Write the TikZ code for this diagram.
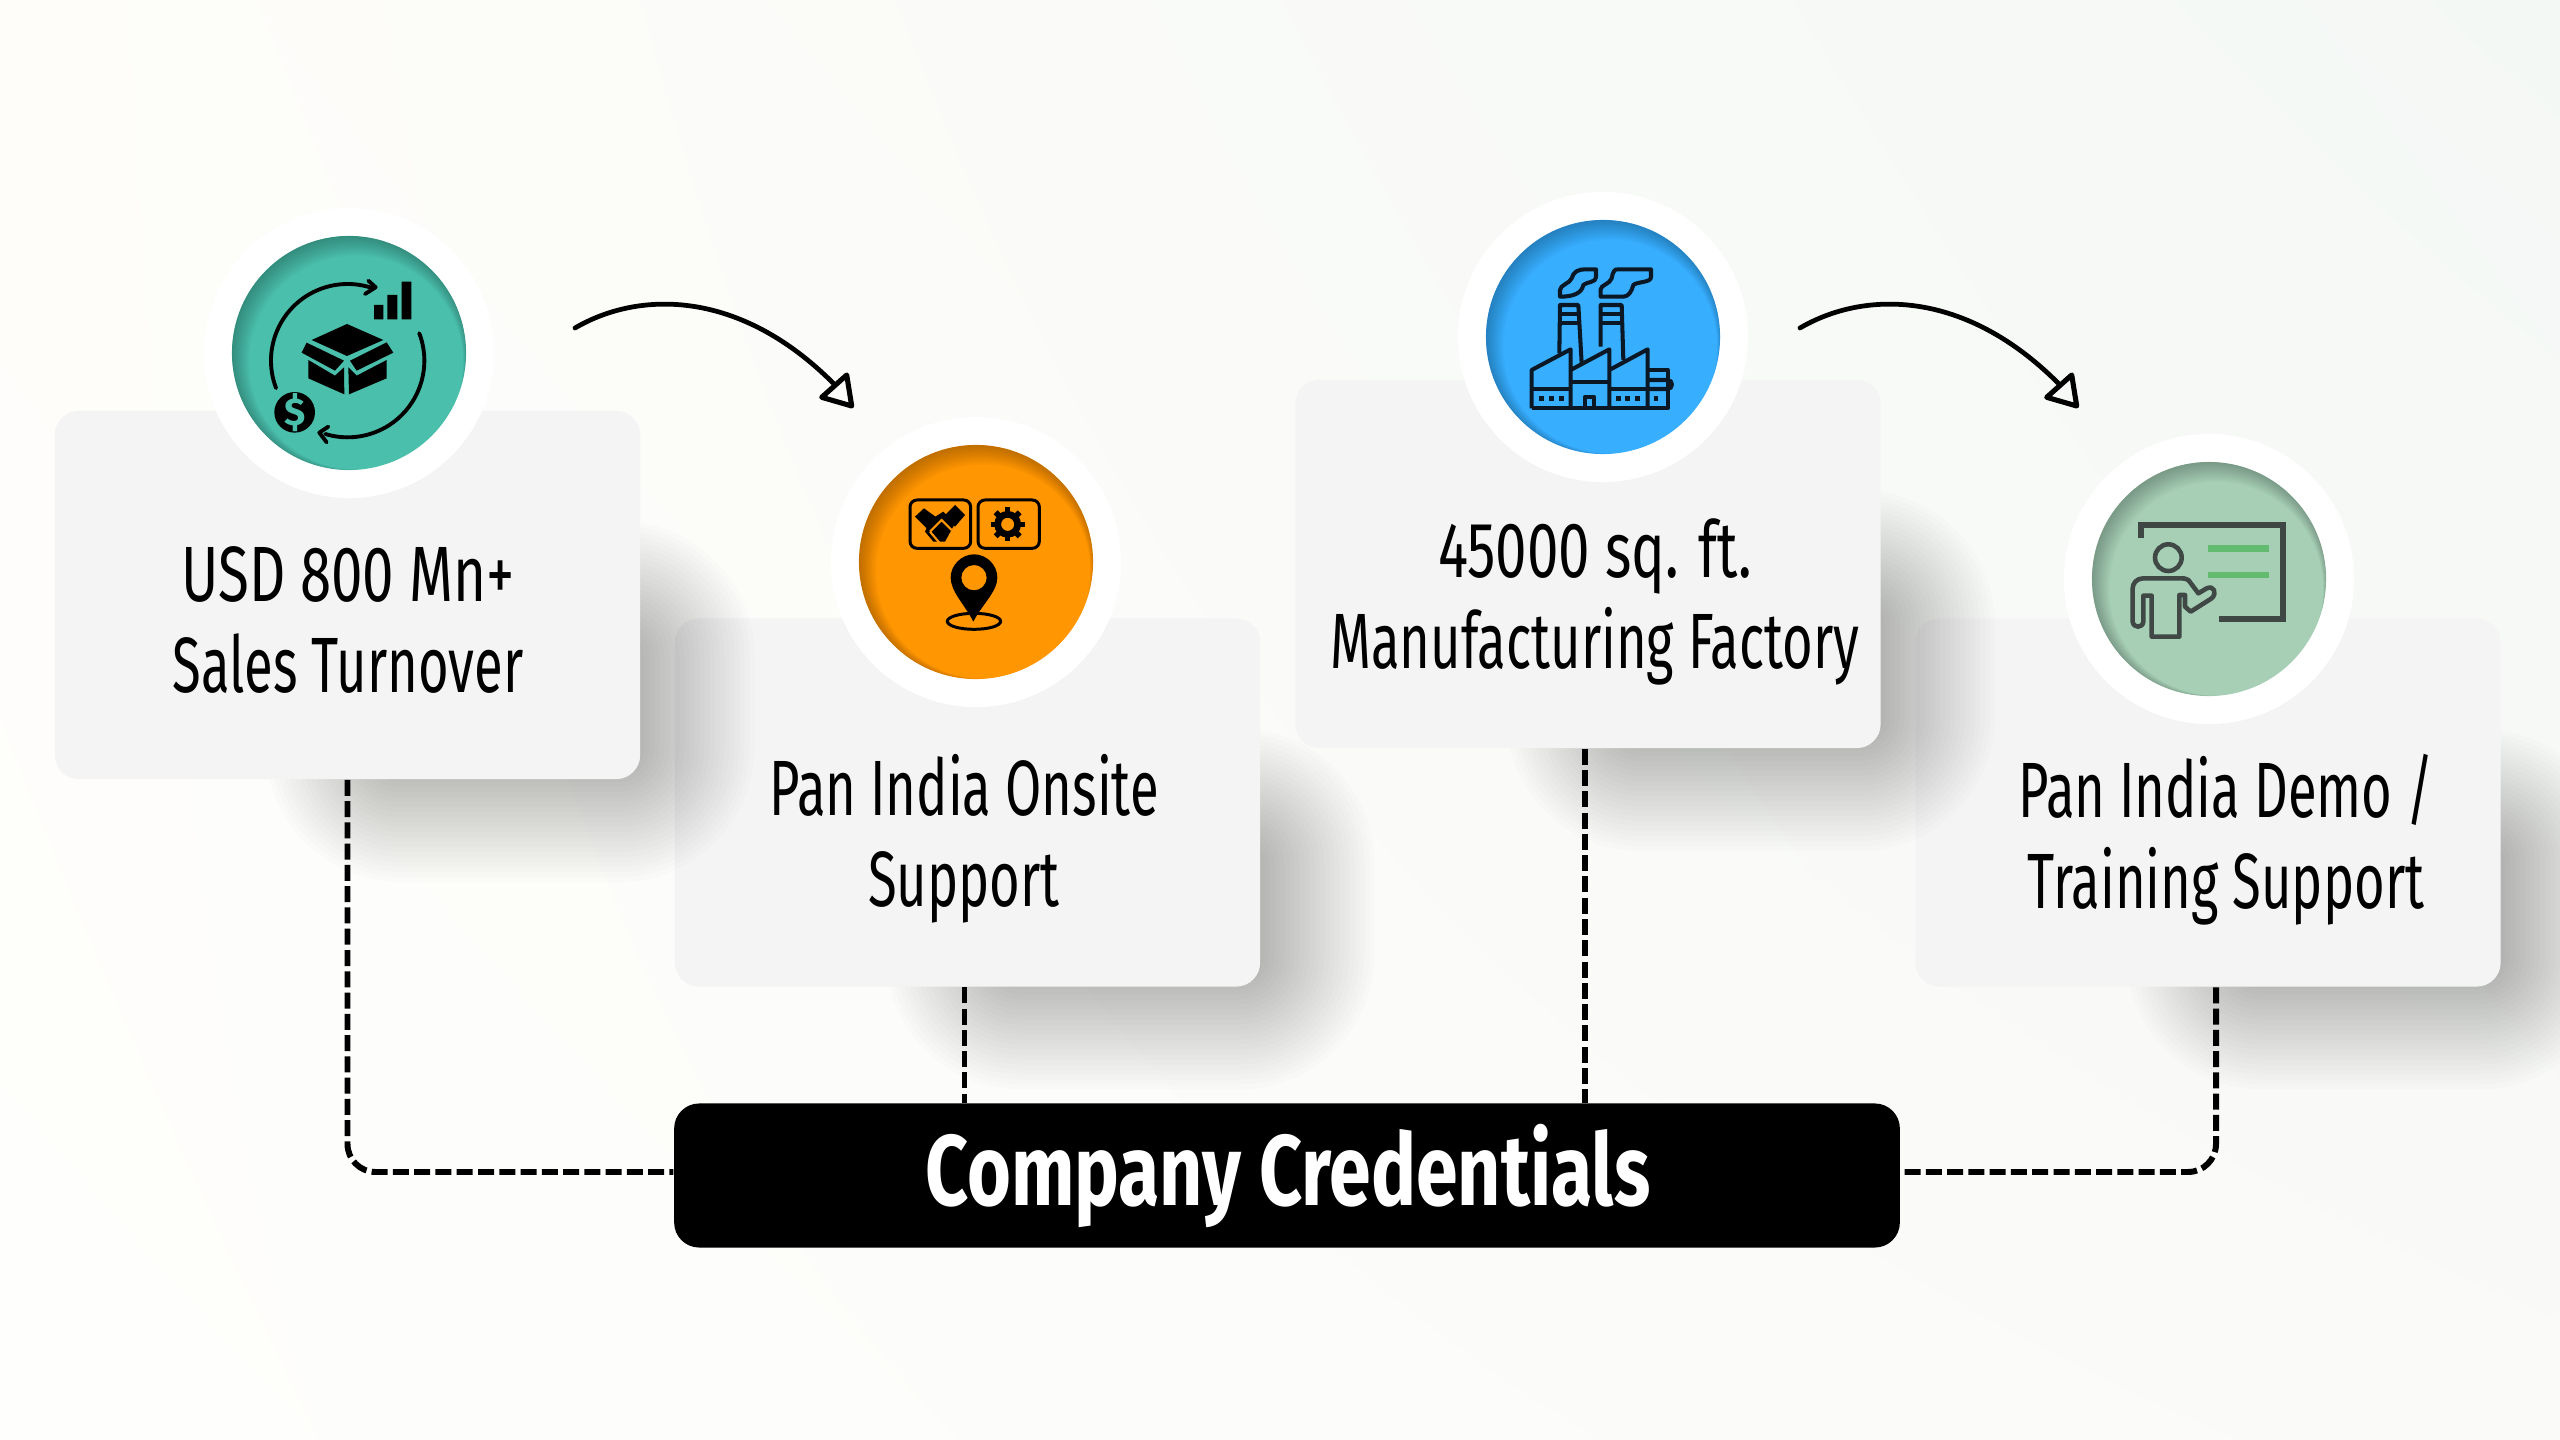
\documentclass[tikz,border=0pt]{standalone}
\usepackage{fontspec}
\usetikzlibrary{shadings}
\setmainfont[FakeStretch=0.67]{Fira Sans}
\newfontfamily\digitfont[FakeStretch=0.72]{Fira Sans}
\newfontfamily\titlefont[FakeStretch=0.75]{Fira Sans}
\newfontfamily\dollarfont{Fira Sans}
\definecolor{cardback}{RGB}{244,244,245}
\definecolor{iconteal}{RGB}{74,191,171}
\definecolor{iconorange}{RGB}{255,150,2}
\definecolor{iconblue}{RGB}{56,174,255}
\definecolor{icongreen}{RGB}{166,207,182}
\definecolor{boardgrey}{RGB}{63,72,68}
\definecolor{boardline}{RGB}{98,187,110}
\definecolor{factoryink}{RGB}{10,24,38}
\definecolor{backnw}{RGB}{254,253,250}
\definecolor{backne}{RGB}{244,248,245}
\definecolor{backsw}{RGB}{254,254,252}
\definecolor{backse}{RGB}{250,250,248}
\tikzset{
  cardbox/.style={fill=cardback,rounded corners=0.24cm,minimum width=5.85cm,minimum height=3.68cm,inner sep=0pt},
  ringbox/.style={circle,fill=white,minimum size=2.9cm,inner sep=0pt},
  iconbox/.style={circle,minimum size=2.34cm,inner sep=0pt},
  cardlabel/.style={align=center,font=\fontsize{22.3}{25.9}\selectfont,text=black},
  credline/.style={line width=1.7pt,dash pattern=on 4.55pt off 1.5pt}
}
\newcommand{\circleshade}[1]{
  \begin{scope}
    \clip (#1.center) circle[radius=117];
    \foreach \d in {1,2,...,12}
      \fill[black,opacity=.024,even odd rule] (#1.center) circle[radius=140] ([shift={(0.6*\d,0.8*\d)}]#1.center) circle[radius={119-\d}];
  \end{scope}
}
\begin{document}
\begin{tikzpicture}[x=0.01cm,y=-0.01cm]
\useasboundingbox (0,0) rectangle (2560,1440);
\shade[upper left=backnw,upper right=backne,lower left=backsw,lower right=backse] (0,0) rectangle (2560,1440);

\foreach \cardname/\cx/\cy in {cardfour/2208/802.5,cardthree/1588/564,cardtwo/967.5/802.5,cardone/347.5/595}
{
  \foreach \d in {-65,-60,...,65}
    \fill[black,opacity=.01,rounded corners={(70+\d)*0.2845pt}] ({\cx-17-\d},{\cy-9-\d}) rectangle ({\cx+342+\d},{\cy+222+\d});
  \node (\cardname) [cardbox] at (\cx,\cy) {};
}

\node (credbar) [fill=black,rounded corners=0.25cm,minimum width=12.25cm,minimum height=1.44cm,inner sep=0pt] at (1287,1175.5) {};
\draw[credline,rounded corners=0.28cm] (cardone.south) |- ([yshift=0.035cm]credbar.west);
\draw[credline] ([xshift=-0.03cm]cardtwo.south) -- ([xshift=-0.03cm]cardtwo.south |- credbar.north);
\draw[credline] ([xshift=-0.03cm]cardthree.south) -- ([xshift=-0.03cm]cardthree.south |- credbar.north);
\draw[credline,rounded corners=0.28cm] ([xshift=0.08cm]cardfour.south) |- ([yshift=0.035cm]credbar.east);
\node (credtitle) [text=white,font=\titlefont\fontsize{28.5}{30}\bfseries\selectfont] at (1288,1176) {Company Credentials};

\node (ringone) [ringbox] at (349,353) {};
\node (ringtwo) [ringbox] at (976,562) {};
\node (ringthree) [ringbox] at (1603,337) {};
\node (ringfour) [ringbox] at (2209,579) {};
\node (iconone) [iconbox,fill=iconteal] at (349,353) {};
\node (icontwo) [iconbox,fill=iconorange] at (976,562) {};
\node (iconthree) [iconbox,fill=iconblue] at (1603,337) {};
\node (iconfour) [iconbox,fill=icongreen] at (2209,579) {};
\circleshade{iconone}
\circleshade{icontwo}
\circleshade{iconthree}
\circleshade{iconfour}

\begin{scope}[shift={(200,210)},scale=1/3]
\draw[line width=1.1pt,line cap=round] (443,452) ++(159:230) arc[start angle=159,end angle=289,radius=230];
\draw[line width=1.1pt,line cap=round,line join=round] (505,212) -- (527,232) -- (495,252);
\draw[line width=1.1pt,line cap=round] (443,452) ++(-21:230) arc[start angle=-21,end angle=107,radius=230];
\draw[line width=1.1pt,line cap=round,line join=round] (385,650) -- (358,668) -- (380,697);
\fill (522,285) rectangle (550,328) (562,255) rectangle (592,328) (605,215) rectangle (634,328);
\fill (284,607) circle[radius=61];
\node (dollarsign) [text=iconteal,font=\dollarfont\fontsize{11}{11}\bfseries\selectfont] at (284,607) {\$};
\fill (441,342) -- (550,390) -- (441,438) -- (335,390) -- cycle;
\fill (320,398) -- (432,452) -- (405,482) -- (305,428) -- cycle;
\fill (560,397) -- (580,428) -- (470,482) -- (450,452) -- cycle;
\fill (325,450) -- (405,497) -- (432,472) -- (433,553) -- (325,505) -- cycle;
\fill (560,450) -- (470,497) -- (445,472) -- (447,553) -- (560,505) -- cycle;
\end{scope}

\begin{scope}[shift={(830,420)},scale=1/3]
\draw[line width=0.85pt,rounded corners=0.07cm] (240,240) rectangle (422,385);
\draw[line width=0.85pt,rounded corners=0.07cm] (444,240) rectangle (628,385);
\draw[line width=1.9pt] (533,313) circle[radius=30];
\foreach \a in {0,45,...,315}
  \draw[line width=1.6pt] (533,313) ++(\a:30) -- ++(\a:21);
\fill (255,290) -- (282,265) -- (330,300) -- (300,335) -- cycle;
\fill (375,255) -- (405,285) -- (375,320) -- (345,285) -- cycle;
\fill (300,300) -- (340,275) -- (375,310) -- (345,365) -- (310,365) -- (285,335) -- cycle;
\draw[iconorange,line width=0.6pt] (300,335) -- (335,300) -- (365,330);
\draw[iconorange,line width=0.6pt,rounded corners=0.03cm] (300,335) -- (328,368);
\fill[even odd rule] (430,605) .. controls (405,555) and (362,515) .. (362,473) .. controls (362,435) and (395,403) .. (432,403) .. controls (470,403) and (502,435) .. (502,473) .. controls (502,515) and (455,555) .. (430,605) -- cycle (432,473) circle[radius=38];
\draw[line width=0.85pt] (432,604) ellipse[x radius=80,y radius=24];
\end{scope}

\begin{scope}[shift={(1470,190)},scale=1/3,factoryink,line width=1.15pt,line join=round]
\draw (345,238) -- (378,238) -- (378,262) .. controls (378,278) and (350,275) .. (340,285) .. controls (335,310) and (310,320) .. (270,320) -- (270,300) .. controls (270,285) and (300,280) .. (305,265) .. controls (310,245) and (325,238) .. (345,238);
\draw (440,238) -- (543,238) -- (543,262) .. controls (543,278) and (500,275) .. (490,285) .. controls (485,305) and (475,320) .. (460,320) -- (392,320) -- (392,298) .. controls (392,285) and (420,282) .. (425,265) .. controls (428,245) and (435,238) .. (440,238);
\draw (268,490) -- (270,345) -- (325,345) -- (335,520);
\draw (270,372) -- (326,372) (270,398) -- (328,398);
\draw (392,470) -- (392,345) -- (455,345) -- (460,510);
\draw (392,372) -- (456,372) (392,398) -- (457,398);
\draw (185,655) -- (185,540) -- (302,478) -- (302,655) (302,540) -- (418,478) -- (418,655) (418,540) -- (533,478) -- (533,655);
\draw (533,540) -- (593,540) -- (593,655) -- (185,655);
\draw (185,597) -- (302,597) (302,575) -- (418,575) (418,597) -- (533,597);
\draw (533,570) -- (593,570) .. controls (610,570) and (610,597) .. (593,597) -- (533,597);
\draw (345,655) -- (345,620) -- (372,620) -- (372,655);
\foreach \wx in {215,245,275,445,473,502,558}
  \fill (\wx-7,618) rectangle (\wx+7,632);
\end{scope}

\begin{scope}[shift={(2060,430)},scale=1/3,boardgrey]
\draw[line width=1.7pt] (242,325) -- (242,285) -- (668,285) -- (668,568) -- (476,568);
\draw[boardline,line width=1.9pt] (445,355) -- (627,355) (445,435) -- (627,435);
\draw[line width=1.3pt] (325,383) circle[radius=40];
\draw[line width=1.3pt,line join=round] (275,497) -- (275,620) -- (358,620) -- (358,495) -- (375,495) -- (375,530) -- (392,545) -- (455,505) .. controls (472,490) and (462,465) .. (440,475) -- (415,490) -- (385,450) .. controls (378,445) and (370,445) .. (360,445) -- (250,445) .. controls (230,445) and (218,460) .. (218,475) -- (218,575) .. controls (220,595) and (248,595) .. (250,575) -- (250,497) -- cycle;
\end{scope}

\foreach \dx/\tag in {0/a,1225/b}
{
  \coordinate (arrowstart\tag) at (575+\dx,328);
  \coordinate (arrowend\tag) at (833+\dx,383);
  \draw[line width=1.35pt,line cap=round] (arrowstart\tag) .. controls +(65,-38) and +(-93,-93) .. (arrowend\tag);
  \draw[line width=1.45pt,line join=round] (arrowend\tag) ++(13.7,-8) -- ++(5,31) -- ++(-30,-8.7) -- cycle;
}

\node (labelone) [cardlabel] at (348,620) {{\digitfont USD 800 Mn+}\\Sales Turnover};
\node (labeltwo) [cardlabel] at (964,839) {Pan India Onsite\\Support};
\node (labelthree) [cardlabel] at (1595,602) {{\digitfont 45000 sq. ft.}\\Manufacturing Factory};
\node (labelfour) [cardlabel] at (2226,840) {Pan India Demo /\\Training Support};
\end{tikzpicture}
\end{document}
